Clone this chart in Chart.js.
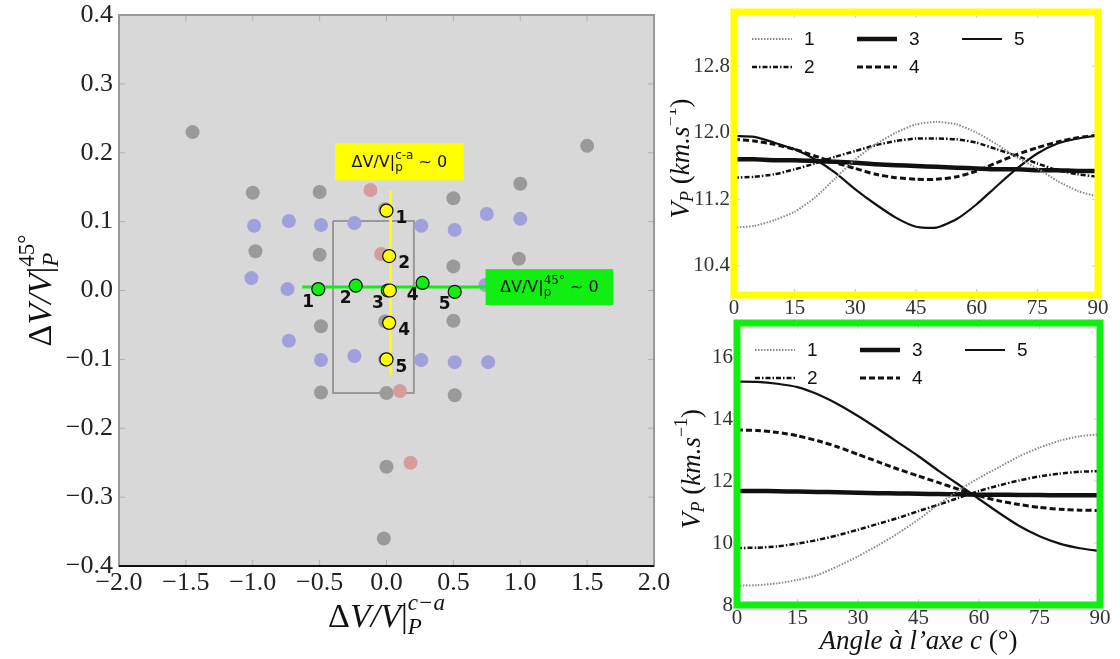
<!DOCTYPE html>
<html lang="fr">
<head>
<meta charset="UTF-8">
<title>Anisotropie et vitesse V_P</title>
<script src="https://cdn.jsdelivr.net/npm/chart.js@4/dist/chart.umd.min.js"></script>
<style>
  body { margin: 0; background: #fff; width: 1120px; height: 659px; overflow: hidden; position: relative; }
  canvas { position: absolute; }
  #mapChart { left: 0; top: 0; }
  #caChart { left: 670px; top: 0; }
  #p45Chart { left: 670px; top: 318px; }
</style>
</head>
<body>
<canvas id="mapChart" width="670" height="659"></canvas>
<canvas id="caChart" width="450" height="318"></canvas>
<canvas id="p45Chart" width="450" height="341"></canvas>
<script>
// ---- left panel: dV/V c-a vs dV/V 45 ----
const greyX = [-1.45, 1.5, -1.0, -0.5, 0.02, 0.5, 1.0, -0.98, -0.5, 0.5, 0.99, -0.49, 0.5, -0.49, 0.0, 0.51, 0.0, -0.02, -0.01, -0.01, -0.01];
const greyY = [0.23, 0.21, 0.142, 0.143, 0.172, 0.134, 0.155, 0.057, 0.052, 0.035, 0.046, -0.052, -0.044, -0.148, -0.149, -0.152, -0.256, -0.36, 0.118, -0.045, -0.1];
const blueX = [-0.99, -0.73, -0.49, -0.24, 0.26, 0.51, 0.75, 1.0, -1.01, -0.74, 0.74, -0.73, -0.49, -0.24, 0.26, 0.51, 0.76];
const blueY = [0.094, 0.101, 0.095, 0.098, 0.094, 0.088, 0.111, 0.104, 0.018, 0.002, 0.008, -0.073, -0.101, -0.095, -0.101, -0.104, -0.104];
const redX = [-0.12, -0.04, 0.1, 0.18];
const redY = [0.146, 0.053, -0.146, -0.25];
const yellowX = [0.0, 0.02, 0.025, 0.02, 0.0];
const yellowY = [0.116, 0.05, 0.0, -0.047, -0.1];
const greenX = [-0.51, -0.23, 0.01, 0.27, 0.51];
const greenY = [0.002, 0.007, 0.0, 0.011, -0.002];
const yLineX = [0.03, 0.03];
const yLineY = [0.145, -0.123];
const gLineX = [-0.63, 0.75];
const gLineY = [0.005, 0.005];
const rectX = [-0.4, 0.205, 0.205, -0.4, -0.4];
const rectY = [0.101, 0.101, -0.149, -0.149, 0.101];

// ---- right panels: V_P vs angle to c axis ----
const angles = [0, 5, 10, 15, 20, 25, 30, 35, 40, 45, 50, 55, 60, 65, 70, 75, 80, 85, 90];
const caV1 = [10.86, 10.88, 10.95, 11.05, 11.22, 11.45, 11.68, 11.86, 12.0, 12.1, 12.13, 12.1, 12.0, 11.86, 11.7, 11.57, 11.42, 11.3, 11.23];
const caV2 = [11.46, 11.47, 11.5, 11.56, 11.63, 11.71, 11.78, 11.85, 11.9, 11.93, 11.93, 11.92, 11.88, 11.8, 11.72, 11.63, 11.55, 11.5, 11.47];
const caV3 = [11.68, 11.68, 11.67, 11.67, 11.66, 11.65, 11.64, 11.62, 11.61, 11.6, 11.59, 11.58, 11.57, 11.56, 11.56, 11.55, 11.55, 11.54, 11.54];
const caV4 = [11.92, 11.9, 11.86, 11.8, 11.72, 11.64, 11.57, 11.5, 11.46, 11.44, 11.44, 11.47, 11.54, 11.64, 11.74, 11.82, 11.89, 11.94, 11.97];
const caV5 = [11.96, 11.95, 11.88, 11.8, 11.68, 11.52, 11.32, 11.14, 10.98, 10.87, 10.86, 10.96, 11.14, 11.36, 11.57, 11.75, 11.87, 11.93, 11.97];
const p45V1 = [8.62, 8.64, 8.7, 8.81, 8.97, 9.25, 9.57, 9.93, 10.32, 10.76, 11.25, 11.7, 12.1, 12.45, 12.8, 13.08, 13.3, 13.45, 13.5];
const p45V2 = [9.84, 9.85, 9.89, 9.98, 10.1, 10.25, 10.43, 10.62, 10.81, 11.03, 11.24, 11.46, 11.68, 11.86, 12.02, 12.15, 12.24, 12.3, 12.32];
const p45V3 = [11.68, 11.68, 11.67, 11.66, 11.65, 11.64, 11.62, 11.61, 11.6, 11.59, 11.58, 11.57, 11.56, 11.56, 11.55, 11.55, 11.54, 11.54, 11.54];
const p45V4 = [13.65, 13.63, 13.57, 13.46, 13.3, 13.1, 12.86, 12.62, 12.38, 12.16, 11.95, 11.73, 11.52, 11.36, 11.24, 11.15, 11.09, 11.06, 11.05];
const p45V5 = [15.21, 15.2, 15.14, 15.03, 14.8, 14.48, 14.1, 13.68, 13.24, 12.8, 12.33, 11.88, 11.42, 10.97, 10.55, 10.22, 9.98, 9.83, 9.74];
const seriesNames = ['1', '2', '3', '4', '5'];
const caTicks = [10.4, 11.2, 12.0, 12.8];
const p45Ticks = [8, 10, 12, 14, 16];
const angleTicks = [0, 15, 30, 45, 60, 75, 90];

const SERIF = '"Liberation Serif", "DejaVu Serif", serif';
const SANS = '"DejaVu Sans", sans-serif';

function pts(xs, ys) {
  return xs.map((x, i) => ({ x: x, y: ys[i] }));
}

function fmt1(v) {
  if (Math.abs(v) < 1e-9) return '0.0';
  return v.toFixed(1).replace('-', '\u2212');
}

// text with sub/superscripts; a part with stack:true sits over the previous one
function drawRich(ctx, parts, x, y, angle) {
  let cur = 0, prevX = 0, prevW = 0;
  parts.forEach(p => {
    ctx.font = p.font;
    p.w = ctx.measureText(p.t).width;
    if (p.stack) {
      p.x = prevX;
      cur = prevX + Math.max(prevW, p.w);
    } else {
      p.x = cur; prevX = cur; prevW = p.w; cur += p.w;
    }
  });
  ctx.save();
  ctx.translate(x, y);
  ctx.rotate(angle || 0);
  ctx.textAlign = 'left';
  ctx.textBaseline = 'middle';
  parts.forEach(p => {
    ctx.font = p.font;
    ctx.fillStyle = p.color || '#111';
    ctx.fillText(p.t, p.x - cur / 2, p.dy || 0);
  });
  ctx.restore();
}

function innerTicks(chart, color) {
  const { ctx, chartArea: a, scales } = chart;
  ctx.save();
  ctx.strokeStyle = color;
  ctx.lineWidth = 1;
  ctx.beginPath();
  scales.x.ticks.forEach(t => {
    const px = scales.x.getPixelForValue(t.value);
    ctx.moveTo(px, a.bottom); ctx.lineTo(px, a.bottom - 6);
    ctx.moveTo(px, a.top); ctx.lineTo(px, a.top + 6);
  });
  scales.y.ticks.forEach(t => {
    const py = scales.y.getPixelForValue(t.value);
    ctx.moveTo(a.left, py); ctx.lineTo(a.left + 6, py);
    ctx.moveTo(a.right, py); ctx.lineTo(a.right - 6, py);
  });
  ctx.stroke();
  ctx.restore();
}

const mathBig = 'italic 34px ' + SERIF;
const mathBigUp = '34px ' + SERIF;
const mathSmall = 'italic 23px ' + SERIF;
const mathSmallUp = '23px ' + SERIF;

const annoBoxes = [
  { x0: -0.384, x1: 0.577, y0: 0.214, y1: 0.160, color: '#ffff00', sup: 'c-a' },
  { x0: 0.741, x1: 1.695, y0: 0.031, y1: -0.021, color: '#11ee11', sup: '45\u00b0' }
];

const mapDecor = {
  id: 'mapDecor',
  beforeDraw(chart) {
    const { ctx, chartArea: a } = chart;
    ctx.save();
    ctx.fillStyle = '#d8d8d8';
    ctx.fillRect(a.left, a.top, a.right - a.left, a.bottom - a.top);
    ctx.restore();
  },
  beforeDatasetsDraw(chart) {
    const { ctx, chartArea: a } = chart;
    innerTicks(chart, '#b0b0b0');
    ctx.save();
    ctx.strokeStyle = '#999';
    ctx.lineWidth = 2;
    ctx.strokeRect(a.left, a.top, a.right - a.left, a.bottom - a.top);
    ctx.strokeStyle = '#111';
    ctx.beginPath();
    ctx.moveTo(a.left, a.bottom); ctx.lineTo(a.right, a.bottom);
    ctx.stroke();
    ctx.restore();
  },
  afterDatasetsDraw(chart) {
    const { ctx, scales } = chart;
    // number labels next to the points
    ctx.save();
    ctx.font = 'bold 17px ' + SANS;
    ctx.fillStyle = '#111';
    ctx.textAlign = 'center';
    ctx.textBaseline = 'middle';
    const yMeta = chart.getDatasetMeta(0).data;
    const gMeta = chart.getDatasetMeta(1).data;
    yMeta.forEach((p, i) => {
      if (i !== 2) ctx.fillText(String(i + 1), p.x + 15, p.y + 8);
    });
    gMeta.forEach((p, i) => {
      ctx.fillText(String(i + 1), p.x - 10, p.y + 13);
    });
    ctx.restore();
    // annotation boxes
    annoBoxes.forEach(b => {
      const x0 = scales.x.getPixelForValue(b.x0), x1 = scales.x.getPixelForValue(b.x1);
      const y0 = scales.y.getPixelForValue(b.y0), y1 = scales.y.getPixelForValue(b.y1);
      ctx.save();
      ctx.fillStyle = b.color;
      ctx.fillRect(x0, y0, x1 - x0, y1 - y0);
      ctx.restore();
      drawRich(ctx, [
        { t: '\u0394V/V|', font: '16px ' + SANS },
        { t: 'p', font: '12px ' + SANS, dy: 5 },
        { t: b.sup, font: '12px ' + SANS, dy: -7, stack: true },
        { t: ' ~ 0', font: '16px ' + SANS }
      ], (x0 + x1) / 2, (y0 + y1) / 2 + 1);
    });
  },
  afterDraw(chart) {
    const { ctx, chartArea: a } = chart;
    drawRich(ctx, [
      { t: '\u0394', font: mathBigUp },
      { t: 'V/V', font: mathBig },
      { t: '|', font: mathBigUp },
      { t: 'P', font: mathSmall, dy: 10 },
      { t: 'c\u2212a', font: mathSmall, dy: -14, stack: true }
    ], (a.left + a.right) / 2, 618);
    drawRich(ctx, [
      { t: '\u0394', font: mathBigUp },
      { t: 'V/V', font: mathBig },
      { t: '|', font: mathBigUp },
      { t: 'P', font: mathSmall, dy: 10 },
      { t: '45\u00b0', font: mathSmallUp, dy: -14, stack: true }
    ], 42, (a.top + a.bottom) / 2, -Math.PI / 2);
  }
};

const tickFontBig = { family: SERIF, size: 26 };

new Chart(document.getElementById('mapChart'), {
  type: 'scatter',
  data: {
    datasets: [
      { label: 'yellow', data: pts(yellowX, yellowY), pointRadius: 6.5, backgroundColor: '#ffff00', borderColor: '#111', borderWidth: 1.2 },
      { label: 'green', data: pts(greenX, greenY), pointRadius: 6.5, backgroundColor: '#11ee11', borderColor: '#111', borderWidth: 1.2 },
      { label: 'yellowLine', data: pts(yLineX, yLineY), showLine: true, borderColor: '#ffff00', borderWidth: 3, pointRadius: 0 },
      { label: 'greenLine', data: pts(gLineX, gLineY), showLine: true, borderColor: '#11ee11', borderWidth: 3, pointRadius: 0 },
      { label: 'red', data: pts(redX, redY), pointRadius: 7, backgroundColor: '#d69c9c', borderWidth: 0 },
      { label: 'blue', data: pts(blueX, blueY), pointRadius: 7, backgroundColor: '#a0a0dc', borderWidth: 0 },
      { label: 'grey', data: pts(greyX, greyY), pointRadius: 7, backgroundColor: '#9a9a9a', borderWidth: 0 },
      { label: 'rect', data: pts(rectX, rectY), showLine: true, borderColor: '#999', borderWidth: 2, pointRadius: 0 }
    ]
  },
  options: {
    responsive: false,
    animation: false,
    devicePixelRatio: 1,
    layout: { padding: { top: 15, right: 16, left: 0, bottom: 0 } },
    plugins: { legend: { display: false }, tooltip: { enabled: false } },
    scales: {
      x: {
        min: -2, max: 2,
        ticks: { stepSize: 0.5, callback: v => fmt1(v), font: tickFontBig, color: '#222', padding: 2, maxRotation: 0, autoSkip: false },
        grid: { display: false, drawTicks: false },
        border: { display: false },
        afterFit: s => { s.height = 93; s.paddingLeft = 0; s.paddingRight = 0; }
      },
      y: {
        min: -0.4, max: 0.4,
        ticks: { stepSize: 0.1, callback: v => fmt1(v), font: tickFontBig, color: '#222', padding: 6, autoSkip: false },
        grid: { display: false, drawTicks: false },
        border: { display: false },
        afterFit: s => { s.width = 119; s.paddingTop = 0; s.paddingBottom = 0; }
      }
    }
  },
  plugins: [mapDecor]
});

// ---- right panels ----
const lineStyles = [
  { borderColor: '#8a8a8a', borderWidth: 2, borderDash: [1.5, 1.5] },
  { borderColor: '#111', borderWidth: 2.5, borderDash: [5, 2, 1.5, 2] },
  { borderColor: '#111', borderWidth: 4.5, borderDash: [] },
  { borderColor: '#111', borderWidth: 3, borderDash: [6, 3] },
  { borderColor: '#111', borderWidth: 2.2, borderDash: [] }
];

const curveDecor = {
  id: 'curveDecor',
  afterDatasetsDraw(chart, args, opts) {
    const { ctx, chartArea: a } = chart;
    innerTicks(chart, '#c8c8c8');
    // legend: 3 columns, 2 rows
    chart.data.datasets.forEach((ds, i) => {
      const col = Math.floor(i / 2), row = i % 2;
      const x0 = a.left + 18 + col * 105;
      const y0 = a.top + 27 + row * 28;
      ctx.save();
      ctx.strokeStyle = ds.borderColor;
      ctx.lineWidth = ds.borderWidth;
      ctx.setLineDash(ds.borderDash);
      ctx.beginPath(); ctx.moveTo(x0, y0); ctx.lineTo(x0 + 40, y0); ctx.stroke();
      ctx.setLineDash([]);
      ctx.fillStyle = '#111';
      ctx.font = '19px "Liberation Sans", sans-serif';
      ctx.textBaseline = 'middle';
      ctx.fillText(ds.label, x0 + 52, y0 + 1);
      ctx.restore();
    });
    // coloured frame
    ctx.save();
    ctx.strokeStyle = opts.color;
    ctx.lineWidth = 7;
    ctx.strokeRect(a.left, a.top, a.right - a.left, a.bottom - a.top);
    ctx.restore();
  },
  afterDraw(chart, args, opts) {
    const { ctx, chartArea: a } = chart;
    drawRich(ctx, [
      { t: 'V', font: 'italic 27px ' + SERIF },
      { t: 'P', font: 'italic 18px ' + SERIF, dy: 6 },
      { t: ' (', font: '27px ' + SERIF },
      { t: 'km.s', font: 'italic 27px ' + SERIF },
      { t: '\u22121', font: '18px ' + SERIF, dy: -11 },
      { t: ')', font: '27px ' + SERIF }
    ], opts.titleX, (a.top + a.bottom) / 2 + 5, -Math.PI / 2);
    if (opts.xTitle) {
      drawRich(ctx, [
        { t: 'Angle \u00e0 l\u2019axe c', font: 'italic 27px ' + SERIF },
        { t: ' (\u00b0)', font: '27px ' + SERIF }
      ], (a.left + a.right) / 2, a.bottom + 37);
    }
  }
};

function curveChart(canvasId, series, yMin, yMax, yTicks, yDigits, pad, xHeight, yWidth, frame) {
  return new Chart(document.getElementById(canvasId), {
    type: 'scatter',
    data: {
      datasets: series.map((vals, i) => Object.assign({
        label: seriesNames[i],
        data: pts(angles, vals),
        showLine: true,
        pointRadius: 0,
        tension: 0.2
      }, lineStyles[i]))
    },
    options: {
      responsive: false,
      animation: false,
      devicePixelRatio: 1,
      layout: { padding: pad },
      plugins: { legend: { display: false }, tooltip: { enabled: false }, curveDecor: frame },
      scales: {
        x: {
          min: 0, max: 90,
          afterBuildTicks: s => { s.ticks = angleTicks.map(v => ({ value: v })); },
          ticks: { font: { family: SERIF, size: 21 }, color: '#333', padding: 1, maxRotation: 0, autoSkip: false },
          grid: { display: false, drawTicks: false },
          border: { display: false },
          afterFit: s => { s.height = xHeight; s.paddingLeft = 0; s.paddingRight = 0; }
        },
        y: {
          min: yMin, max: yMax,
          afterBuildTicks: s => { s.ticks = yTicks.map(v => ({ value: v })); },
          ticks: { callback: v => v.toFixed(yDigits), font: { family: SERIF, size: 21 }, color: '#333', padding: 4, autoSkip: false },
          grid: { display: false, drawTicks: false },
          border: { display: false },
          afterFit: s => { s.width = yWidth; s.paddingTop = 0; s.paddingBottom = 0; }
        }
      }
    },
    plugins: [curveDecor]
  });
}

curveChart('caChart', [caV1, caV2, caV3, caV4, caV5], 10.05, 13.45, caTicks, 1,
  { top: 12, right: 22, left: 0, bottom: 0 }, 23, 64,
  { color: '#ffff00', titleX: 12, xTitle: false });

curveChart('p45Chart', [p45V1, p45V2, p45V3, p45V4, p45V5], 8, 17.1, p45Ticks, 0,
  { top: 5, right: 20, left: 0, bottom: 0 }, 54, 67,
  { color: '#11ee11', titleX: 23, xTitle: true });
</script>
</body>
</html>
